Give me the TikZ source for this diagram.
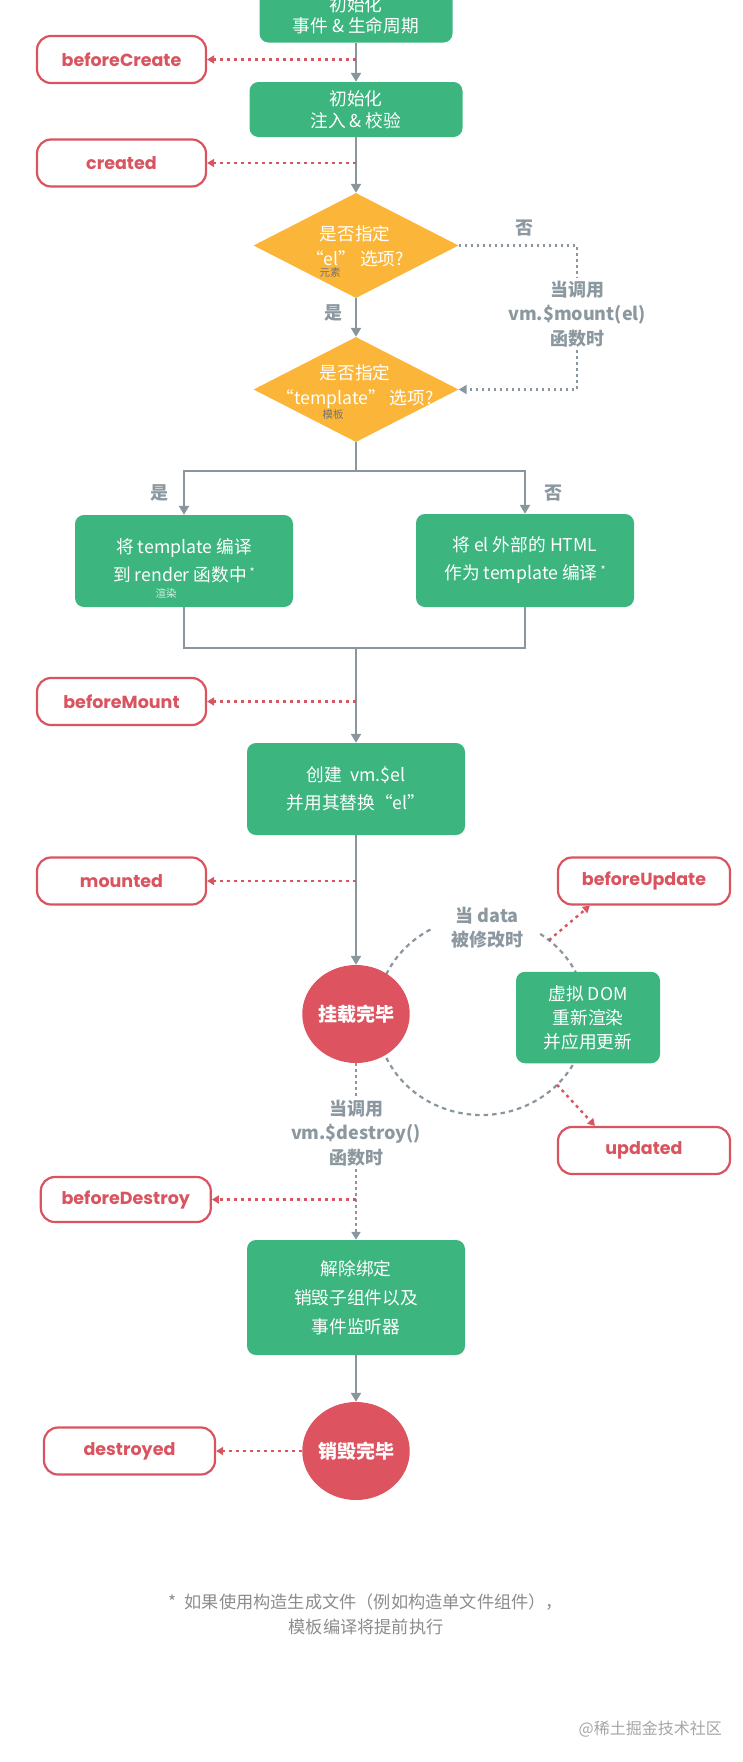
\documentclass[tikz,border=0pt]{standalone}
\usepackage{fontspec}
\setmainfont{Noto Sans CJK SC}
\newfontfamily\hookfont{Poppins}
\usetikzlibrary{shapes.geometric,arrows.meta}
\definecolor{vgreen}{RGB}{60,181,127}
\definecolor{vorange}{RGB}{251,182,58}
\definecolor{vred}{RGB}{221,84,96}
\definecolor{hred}{RGB}{217,84,95}
\definecolor{lgray}{RGB}{138,150,158}
\definecolor{tgray}{RGB}{140,152,160}
\definecolor{ngray}{RGB}{140,140,140}
\definecolor{wgray}{RGB}{165,165,165}
\tikzset{
  gbox/.style={rectangle, rounded corners=9pt, fill=vgreen, text=white, align=center, inner sep=0pt,
    font=\fontsize{17.7}{28}\selectfont},
  hook/.style={rectangle, rounded corners=14pt, draw=hred, line width=2.2pt, fill=white, text=hred,
    minimum width=169pt, minimum height=47pt, inner sep=0pt, font=\hookfont\bfseries\fontsize{17.5}{20}\selectfont},
  dia/.style={diamond, fill=vorange, inner sep=0pt, minimum width=205pt, minimum height=105pt},
  dtext/.style={text=white, align=center, inner sep=0pt, font=\fontsize{17.6}{25}\selectfont},
  endc/.style={ellipse, fill=vred, text=white, minimum width=106pt, minimum height=98pt, inner sep=0pt, font=\bfseries\fontsize{19}{22}\selectfont},
  glabel/.style={text=tgray, align=center, inner sep=3pt, font=\bfseries\fontsize{18}{24.5}\selectfont},
  note/.style={inner sep=0pt, font=\fontsize{10.5}{12}\selectfont},
  flow/.style={draw=lgray, line width=2.6pt, -{Triangle[length=9pt,width=10pt]}},
  flowline/.style={draw=lgray, line width=2.6pt},
  reddot/.style={draw=hred, line width=2.4pt, dash pattern=on 3pt off 4pt, -{Triangle[length=7pt,width=8pt]}},
  graydot/.style={draw=lgray, line width=2.2pt, dash pattern=on 2.5pt off 3.5pt},
  grayarc/.style={draw=lgray, line width=2.2pt, dash pattern=on 4.5pt off 4pt}
}
\begin{document}
\begin{tikzpicture}[x=1pt,y=-1pt]
\useasboundingbox (0,0) rectangle (743,1762);
% update cycle arc (behind shapes)
\coordinate (cyc) at (481.5,1016);
\draw[grayarc] (cyc) ++(20:105 and 99) arc[start angle=20, end angle=160, x radius=105, y radius=99];
\draw[grayarc] (cyc) ++(-160:105 and 99) arc[start angle=-160, end angle=-117, x radius=105, y radius=99];
\draw[grayarc] (cyc) ++(-56:105 and 99) arc[start angle=-56, end angle=-20, x radius=105, y radius=99];
\path (cyc) ++(-50:105 and 99) coordinate (u1);
\path (cyc) ++(44:105 and 99) coordinate (u2);

% main column
\node[gbox, minimum width=193pt, minimum height=55pt, font=\fontsize{17.7}{21}\selectfont] (b1) at (356,15) {初始化\\事件 \& 生命周期};
\node[gbox, minimum width=213pt, minimum height=55pt, font=\fontsize{17.7}{22}\selectfont] (b2) at (356,109.5) {初始化\\注入 \& 校验};
\node[dia] (d1) at (356,245.5) {};
\node[dtext] (t1) at (355,246) {是否指定\\“el” 选项?};
\node[note, text=black!55] (n1) at (330,272.5) {元素};
\node[dia] (d2) at (356,389.5) {};
\node[dtext] (t2) at (355,386.5) {是否指定\\“template” 选项?};
\node[note, text=black!55] (n2) at (333,415) {模板};
\node[gbox, minimum width=218pt, minimum height=92pt] (lb) at (184,561) {将 template 编译\\到 render 函数中\,\raisebox{0.55ex}{\fontsize{11}{11}\selectfont*}};
\node[note, text=white!80!vgreen] (n3) at (166,593) {渲染};
\node[gbox, minimum width=218pt, minimum height=93pt] (rb) at (525,560.5) {将 el 外部的 HTML\\作为 template 编译\,\raisebox{0.55ex}{\fontsize{11}{11}\selectfont*}};
\node[gbox, minimum width=218pt, minimum height=92pt] (b3) at (356,789) {创建\ \ vm.\$el\\并用其替换“el”};
\node[endc] (c1) at (356,1014) {挂载完毕};
\node[gbox, minimum width=144pt, minimum height=91.5pt, font=\fontsize{17.7}{24}\selectfont] (vd) at (588,1017.5) {虚拟 DOM\\重新渲染\\并应用更新};
\node[gbox, minimum width=218pt, minimum height=115pt, font=\fontsize{17.7}{29}\selectfont] (b4) at (356,1297.5) {解除绑定\\销毁子组件以及\\事件监听器};
\node[endc] (c2) at (356,1451) {销毁完毕};

% hooks
\node[hook] (bc) at (121.5,59.5) {beforeCreate};
\node[hook] (cr) at (121.5,163) {created};
\node[hook] (bm) at (121.5,701.5) {beforeMount};
\node[hook] (mo) at (121.5,881) {mounted};
\node[hook, minimum width=172pt] (bu) at (644,881) {beforeUpdate};
\node[hook, minimum width=172pt] (up) at (644,1150.5) {updated};
\node[hook, minimum width=170pt, minimum height=45pt] (bd) at (125.8,1199.5) {beforeDestroy};
\node[hook, minimum width=171pt] (ds) at (129.5,1451) {destroyed};

% labels
\node[glabel] (no1) at (524,228) {否};
\node[glabel] (mnt) at (577,314) {当调用\\vm.\$mount(el)\\函数时};
\node[glabel] (yes1) at (333,313) {是};
\node[glabel] (yes2) at (159.5,493) {是};
\node[glabel] (no2) at (553.5,493) {否};
\node[glabel] (dat) at (487,927.5) {当 data\\被修改时};
\node[glabel] (dst) at (356,1133) {当调用\\vm.\$destroy()\\函数时};

% flow
\draw[flow] (b1.south) -- (b2.north);
\draw[flow] (b2.south) -- (d1.north);
\draw[flow] (d1.south) -- (d2.north);
\coordinate (split) at (356,471);
\coordinate (join) at (356,648);
\draw[flowline] (d2.south) -- (split);
\draw[flow] (split) -| (lb.north);
\draw[flow] (split) -| (rb.north);
\draw[flowline] (lb.south) |- (join);
\draw[flowline] (rb.south) |- (join);
\draw[flow] (join) -- (b3.north);
\draw[flow] (b3.south) -- (c1.north);
\draw[flow] (b4.south) -- (c2.north);
\draw[graydot] (d1.east) -| (mnt.north);
\draw[graydot, -{Triangle[length=8pt,width=9pt]}] (mnt.south) |- (d2.east);
\draw[graydot] (c1.south) -- (dst.north);
\draw[graydot, -{Triangle[length=8pt,width=9pt]}] (dst.south) -- (b4.north);

% hook connectors
\draw[reddot] (bc.east -| b1.south) -- (bc.east);
\draw[reddot] (cr.east -| b2.south) -- (cr.east);
\draw[reddot] (bm.east -| b3.north) -- (bm.east);
\draw[reddot] (mo.east -| b3.south) -- (mo.east);
\draw[reddot] (bd.east -| b4.north) -- (bd.east);
\draw[reddot] (c2.west) -- (ds.east);
\draw[reddot] (u1) -- ([xshift=33pt]bu.south west);
\draw[reddot] (u2) -- ([xshift=38pt]up.north west);

% footnote and watermark
\node[text=ngray, align=center, font=\fontsize{17.2}{25}\selectfont] (fn) at (366,1614.5) {*\ \ 如果使用构造生成文件（例如构造单文件组件），\\模板编译将提前执行};
\node[text=wgray, anchor=east, inner sep=0pt, font=\fontsize{16}{20}\selectfont] (wm) at (722,1729) {@稀土掘金技术社区};
\end{tikzpicture}
\end{document}
